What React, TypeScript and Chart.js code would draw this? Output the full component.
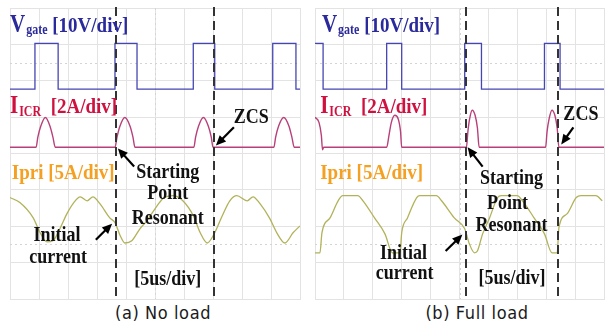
import { useEffect, useRef } from "react";
import { Chart, registerables } from "chart.js";

Chart.register(...registerables);

// Horizontal axis: time in µs (5 µs/div, 10 div). Vertical axis: screen divisions (8 div).
const TIME_MIN = 0;
const TIME_MAX = 50;
const TIME_STEP = 5;
const DIV_MIN = 0;
const DIV_MAX = 8;
const DIV_STEP = 1;

// ---------- (a) No load ----------
const noLoadGateT = [0, 4.3, 4.3, 8.3, 8.3, 18.1, 18.1, 21.9, 21.9, 31.6, 31.6, 35.3, 35.3, 45.3, 45.3, 49.3, 49.3, 50];
const noLoadGateV = [5.77, 5.77, 7.03, 7.03, 5.77, 5.77, 7.03, 7.03, 5.77, 5.77, 7.03, 7.03, 5.77, 5.77, 7.03, 7.03, 5.77, 5.77];

const noLoadIcrT = [0, 4.5, 4.8, 5.3, 6.1, 6.9, 7.4, 7.8, 18.1, 18.45, 18.95, 19.8, 20.7, 21.2, 21.55, 31.7, 32.0, 32.5, 33.35, 34.2, 34.7, 35.0, 45.5, 45.8, 46.3, 47.2, 48.1, 48.6, 49.0, 50];
const noLoadIcrV = [4.17, 4.17, 4.45, 4.75, 4.99, 4.75, 4.45, 4.17, 4.17, 4.45, 4.75, 4.99, 4.75, 4.45, 4.17, 4.17, 4.45, 4.75, 4.99, 4.75, 4.45, 4.17, 4.17, 4.45, 4.75, 4.99, 4.75, 4.45, 4.17, 4.17];

const noLoadIpriT = [0, 1.7, 4.0, 5.2, 6.4, 7.4, 8.6, 9.8, 11.0, 12.1, 13.3, 14.3, 15.5, 17.2, 18.1, 19.0, 19.8, 21.0, 22.4, 23.6, 25.0, 26.4, 28.1, 29.8, 31.6, 32.8, 34.0, 35.2, 36.6, 37.9, 39.1, 40.9, 41.9, 43.1, 44.8, 46.0, 47.4, 48.8, 50];
const noLoadIpriV = [2.79, 2.65, 2.23, 1.82, 1.57, 1.6, 1.93, 2.34, 2.65, 2.81, 2.7, 2.81, 2.62, 2.23, 2.1, 1.74, 1.54, 1.6, 1.93, 2.15, 2.48, 2.76, 2.84, 2.7, 2.29, 1.82, 1.54, 1.79, 2.29, 2.7, 2.84, 2.7, 2.81, 2.62, 2.21, 1.82, 1.54, 1.82, 2.01];

const noLoadMarkersT = [18.3, 35.2];

// ---------- (b) Full load ----------
const fullLoadGateT = [0, 1.4, 1.4, 12.4, 12.4, 15.0, 15.0, 25.9, 25.9, 28.8, 28.8, 39.7, 39.7, 42.4, 42.4, 50];
const fullLoadGateV = [7.03, 7.03, 5.77, 5.77, 7.03, 7.03, 5.77, 5.77, 7.03, 7.03, 5.77, 5.77, 7.03, 7.03, 5.77, 5.77];

const fullLoadIcrT = [0, 0.7, 1.1, 1.3, 1.5, 12.4, 12.8, 13.2, 13.8, 14.4, 14.8, 15.0, 15.2, 26.2, 26.45, 26.75, 27.2, 27.7, 28.1, 28.4, 39.9, 40.15, 40.5, 41.0, 41.5, 41.9, 42.2, 50];
const fullLoadIcrV = [5.0, 4.85, 4.5, 4.1, 4.17, 4.17, 4.5, 4.85, 5.05, 4.95, 4.6, 4.17, 4.17, 4.17, 4.6, 4.95, 5.19, 5.05, 4.7, 4.17, 4.17, 4.6, 4.95, 5.19, 5.05, 4.7, 4.17, 4.17];

const fullLoadIpriT = [0, 0.86, 1.2, 2.6, 4.0, 4.8, 7.4, 8.3, 10.3, 12.1, 13.4, 14.7, 15.0, 16.0, 17.6, 18.1, 21.0, 21.9, 24.1, 25.9, 26.7, 27.6, 28.1, 29.0, 30.2, 31.6, 32.2, 35.0, 35.9, 37.9, 39.7, 41.0, 41.9, 42.2, 43.6, 45.2, 46.0, 48.6, 49.7];
const fullLoadIpriV = [1.27, 1.27, 1.82, 2.23, 2.7, 2.84, 2.84, 2.7, 2.23, 1.79, 1.27, 1.27, 1.82, 2.23, 2.79, 2.84, 2.84, 2.7, 2.23, 1.93, 1.52, 1.27, 1.32, 1.79, 2.23, 2.79, 2.84, 2.84, 2.7, 2.23, 1.79, 1.27, 1.27, 1.96, 2.34, 2.79, 2.84, 2.84, 2.7];

const fullLoadMarkersT = [26.2, 42.1];

// ---------- text ----------
const GATE_LABEL = { main: "V", sub: "gate", rest: " [10V/div]" };
const ICR_LABEL = { main: "I", sub: "ICR", rest: "  [2A/div]" };
const IPRI_LABEL = "Ipri [5A/div]";
const ZCS_TEXT = "ZCS";
const START_TEXT = ["Starting", "Point", "Resonant"];
const INITIAL_TEXT = ["Initial", "current"];
const TIMEBASE_TEXT = "[5us/div]";
const CAPTION_A = "(a) No load";
const CAPTION_B = "(b) Full load";

const COLORS = {
  gate: "#4646b2",
  gateLabel: "#2a2a9c",
  icr: "#b8407a",
  icrLabel: "#cf1140",
  ipri: "#b2b25a",
  ipriLabel: "#f5a020",
  grid: "#e3e3e3",
  dotted: "#d4d4d4",
  marker: "#333333",
  text: "#111111",
};

const SERIF = '"Liberation Serif", "Times New Roman", serif';
const TEXT_SY = 1.15;

type Pt = [number, number];
type Layout = {
  labelsAt: { gate: Pt; icr: Pt; ipri: Pt };
  zcs: Pt;
  zcsArrow: [Pt, Pt];
  start: Pt[];
  startArrow: [Pt, Pt];
  initial: Pt[];
  initialArrow: [Pt, Pt];
  timebase: Pt;
};

const layoutA: Layout = {
  labelsAt: { gate: [0, 7.34], icr: [0, 5.1], ipri: [0.3, 3.31] },
  zcs: [41.6, 4.83],
  zcsArrow: [[38.6, 4.72], [35.5, 4.22]],
  start: [[27.2, 3.34], [27.2, 2.76], [27.2, 2.07]],
  startArrow: [[21.4, 3.64], [18.6, 4.14]],
  initial: [[8.1, 1.6], [8.3, 0.99]],
  initialArrow: [[14.8, 1.63], [17.6, 2.07]],
  timebase: [27.2, 0.39],
};

const layoutB: Layout = {
  labelsAt: { gate: [1.2, 7.34], icr: [0.9, 5.1], ipri: [0.9, 3.31] },
  zcs: [46.0, 4.91],
  zcsArrow: [[44.7, 4.72], [42.6, 4.25]],
  start: [[34.0, 3.17], [33.3, 2.48], [34.0, 1.88]],
  startArrow: [[29.0, 3.64], [26.4, 4.17]],
  initial: [[15.3, 1.1], [15.5, 0.55]],
  initialArrow: [[22.6, 1.32], [25.5, 1.77]],
  timebase: [34.1, 0.41],
};

function toXY(ts: number[], vs: number[]) {
  return ts.map((t, i) => ({ x: t, y: vs[i] }));
}

function drawScaledText(ctx: CanvasRenderingContext2D, text: string, x: number, y: number, size: number, color: string, align: CanvasTextAlign = "left") {
  ctx.save();
  ctx.translate(x, y);
  ctx.scale(1, TEXT_SY);
  ctx.font = `bold ${size}px ${SERIF}`;
  ctx.fillStyle = color;
  ctx.textAlign = align;
  ctx.textBaseline = "alphabetic";
  ctx.fillText(text, 0, 0);
  ctx.restore();
}

function drawSubLabel(ctx: CanvasRenderingContext2D, lab: { main: string; sub: string; rest: string }, x: number, y: number, color: string) {
  ctx.save();
  ctx.translate(x, y);
  ctx.scale(1, TEXT_SY);
  ctx.fillStyle = color;
  ctx.textBaseline = "alphabetic";
  let cx = 0;
  ctx.font = `bold 21px ${SERIF}`;
  ctx.fillText(lab.main, cx, 0);
  cx += ctx.measureText(lab.main).width + 1;
  ctx.font = `bold 12px ${SERIF}`;
  ctx.fillText(lab.sub, cx, 2);
  cx += ctx.measureText(lab.sub).width;
  ctx.font = `bold 19px ${SERIF}`;
  ctx.fillText(lab.rest, cx, 0);
  ctx.restore();
}

function drawArrow(ctx: CanvasRenderingContext2D, x1: number, y1: number, x2: number, y2: number) {
  const ang = Math.atan2(y2 - y1, x2 - x1);
  const head = 10;
  const half = 4.5;
  ctx.save();
  ctx.strokeStyle = "#000";
  ctx.fillStyle = "#000";
  ctx.lineWidth = 2.2;
  ctx.beginPath();
  ctx.moveTo(x1, y1);
  ctx.lineTo(x2 - Math.cos(ang) * head * 0.8, y2 - Math.sin(ang) * head * 0.8);
  ctx.stroke();
  ctx.beginPath();
  ctx.moveTo(x2, y2);
  ctx.lineTo(x2 - Math.cos(ang) * head + Math.sin(ang) * half, y2 - Math.sin(ang) * head - Math.cos(ang) * half);
  ctx.lineTo(x2 - Math.cos(ang) * head - Math.sin(ang) * half, y2 - Math.sin(ang) * head + Math.cos(ang) * half);
  ctx.closePath();
  ctx.fill();
  ctx.restore();
}

const scopeGridPlugin = {
  id: "scopeGrid",
  beforeDatasetsDraw(chart: any) {
    const { ctx, chartArea: a, scales } = chart;
    const xs = scales.x;
    const ys = scales.y;
    ctx.save();
    ctx.strokeStyle = COLORS.dotted;
    ctx.lineWidth = 1;
    ctx.setLineDash([2, 3]);
    [6.5, 1.5].forEach((v) => {
      const py = Math.round(ys.getPixelForValue(v)) + 0.5;
      ctx.beginPath();
      ctx.moveTo(a.left, py);
      ctx.lineTo(a.right, py);
      ctx.stroke();
    });
    const px = Math.round(xs.getPixelForValue((TIME_MIN + TIME_MAX) / 2)) + 0.5;
    ctx.beginPath();
    ctx.moveTo(px, a.top);
    ctx.lineTo(px, a.bottom);
    ctx.stroke();
    ctx.restore();
  },
  afterDatasetsDraw(chart: any, _args: any, opts: any) {
    const { ctx, chartArea: a, scales } = chart;
    const xs = scales.x;
    const ys = scales.y;
    const P = (p: Pt): Pt => [xs.getPixelForValue(p[0]), ys.getPixelForValue(p[1])];
    const L: Layout = opts.layout;
    ctx.save();
    ctx.strokeStyle = COLORS.marker;
    ctx.lineWidth = 2;
    ctx.setLineDash([9, 5]);
    (opts.markers as number[]).forEach((t) => {
      const px = Math.round(xs.getPixelForValue(t));
      ctx.beginPath();
      ctx.moveTo(px, a.top - 1);
      ctx.lineTo(px, a.bottom);
      ctx.stroke();
    });
    ctx.restore();

    let p = P(L.labelsAt.gate);
    drawSubLabel(ctx, GATE_LABEL, p[0], p[1], COLORS.gateLabel);
    p = P(L.labelsAt.icr);
    drawSubLabel(ctx, ICR_LABEL, p[0], p[1], COLORS.icrLabel);
    p = P(L.labelsAt.ipri);
    drawScaledText(ctx, IPRI_LABEL, p[0], p[1], 19, COLORS.ipriLabel);

    p = P(L.zcs);
    drawScaledText(ctx, ZCS_TEXT, p[0], p[1], 18, COLORS.text, "center");
    L.start.forEach((q, i) => {
      const r = P(q);
      drawScaledText(ctx, START_TEXT[i], r[0], r[1], 18, COLORS.text, "center");
    });
    L.initial.forEach((q, i) => {
      const r = P(q);
      drawScaledText(ctx, INITIAL_TEXT[i], r[0], r[1], 18, COLORS.text, "center");
    });
    p = P(L.timebase);
    drawScaledText(ctx, TIMEBASE_TEXT, p[0], p[1], 18, COLORS.text, "center");

    [L.zcsArrow, L.startArrow, L.initialArrow].forEach((ar) => {
      const s = P(ar[0]);
      const e = P(ar[1]);
      drawArrow(ctx, s[0], s[1], e[0], e[1]);
    });
  },
};

function buildChart(canvas: HTMLCanvasElement, gate: any[], icr: any[], ipri: any[], markers: number[], layout: Layout, padLeft: number, padRight: number) {
  return new Chart(canvas, {
    type: "line",
    data: {
      datasets: [
        { label: "Vgate", data: gate, borderColor: COLORS.gate, borderWidth: 1.3, pointRadius: 0, tension: 0, fill: false },
        { label: "ICR", data: icr, borderColor: COLORS.icr, borderWidth: 1.4, pointRadius: 0, cubicInterpolationMode: "monotone", fill: false },
        { label: "Ipri", data: ipri, borderColor: COLORS.ipri, borderWidth: 1.3, pointRadius: 0, cubicInterpolationMode: "monotone", fill: false },
      ],
    },
    options: {
      responsive: false,
      animation: false,
      events: [],
      layout: { padding: { left: padLeft, right: padRight, top: 8, bottom: 1 } },
      plugins: {
        legend: { display: false },
        tooltip: { enabled: false },
        scopeGrid: { markers, layout },
      } as any,
      scales: {
        x: {
          type: "linear",
          min: TIME_MIN,
          max: TIME_MAX,
          ticks: { display: false, stepSize: TIME_STEP },
          grid: { color: COLORS.grid, drawTicks: false, lineWidth: 1 },
          border: { display: true, color: COLORS.grid },
        },
        y: {
          type: "linear",
          min: DIV_MIN,
          max: DIV_MAX,
          ticks: { display: false, stepSize: DIV_STEP },
          grid: { color: COLORS.grid, drawTicks: false, lineWidth: 1 },
          border: { display: true, color: COLORS.grid },
        },
      },
    },
    plugins: [scopeGridPlugin],
  } as any);
}

export default function App() {
  const refA = useRef<HTMLCanvasElement>(null);
  const refB = useRef<HTMLCanvasElement>(null);

  useEffect(() => {
    const a = buildChart(
      refA.current!,
      toXY(noLoadGateT, noLoadGateV),
      toXY(noLoadIcrT, noLoadIcrV),
      toXY(noLoadIpriT, noLoadIpriV),
      noLoadMarkersT,
      layoutA,
      10,
      5
    );
    const b = buildChart(
      refB.current!,
      toXY(fullLoadGateT, fullLoadGateV),
      toXY(fullLoadIcrT, fullLoadIcrV),
      toXY(fullLoadIpriT, fullLoadIpriV),
      fullLoadMarkersT,
      layoutB,
      10,
      1
    );
    return () => {
      a.destroy();
      b.destroy();
    };
  }, []);

  const captionStyle: any = {
    position: "absolute",
    top: 303,
    fontFamily: '"DejaVu Sans Condensed", "DejaVu Sans", sans-serif',
    fontSize: 18,
    lineHeight: "20px",
    letterSpacing: "0.6px",
    color: "#1a1a1a",
    whiteSpace: "pre",
    transform: "translateX(-50%)",
  };

  return (
    <div style={{ position: "fixed", left: 0, top: 0, width: 605, height: 327, background: "#fff", overflow: "hidden" }}>
      <canvas ref={refA} width={305} height={300} style={{ position: "absolute", left: 0, top: 0 }} />
      <canvas ref={refB} width={300} height={300} style={{ position: "absolute", left: 305, top: 0 }} />
      <div style={{ ...captionStyle, left: 163 }}>{CAPTION_A}</div>
      <div style={{ ...captionStyle, left: 477 }}>{CAPTION_B}</div>
    </div>
  );
}
